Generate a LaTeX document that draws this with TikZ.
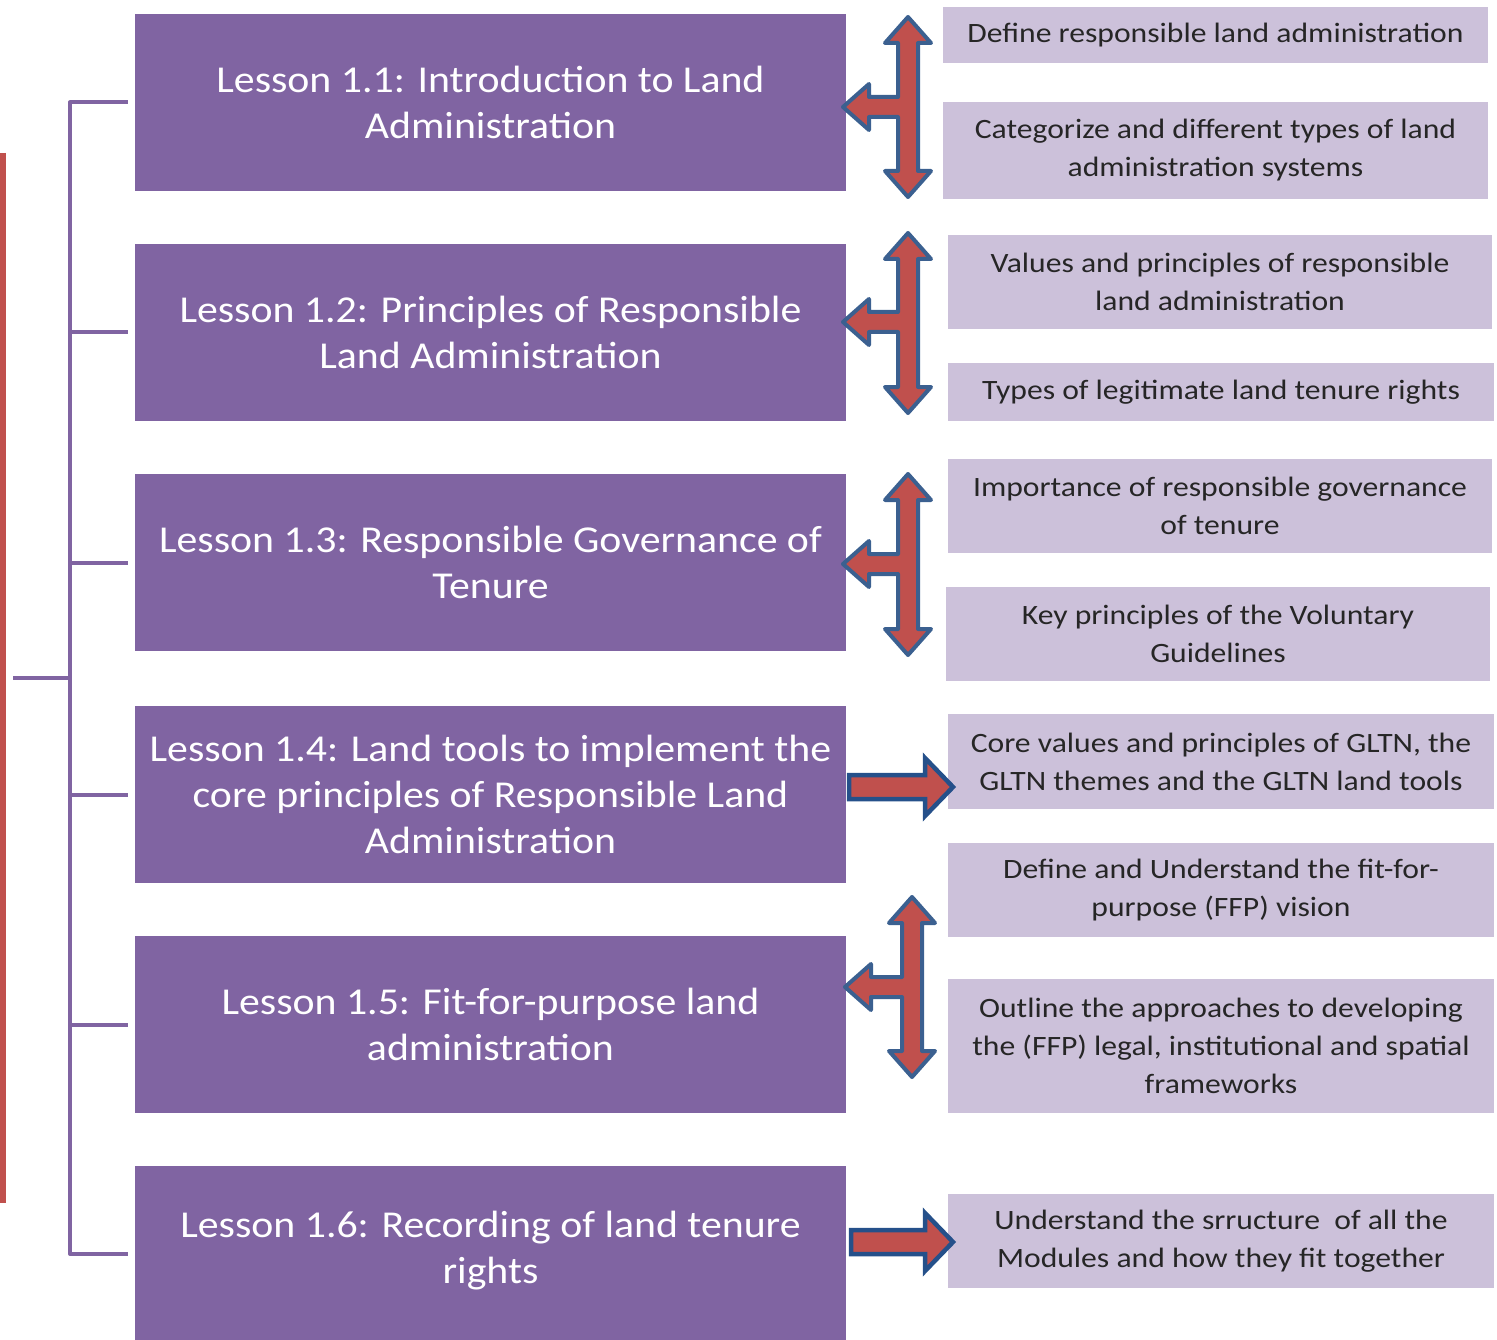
\documentclass[tikz,border=0pt]{standalone}
\usepackage{fontspec}
\setmainfont{Carlito}
\newfontfamily\lessonfont[FakeStretch=1.1]{Carlito}
\newfontfamily\detailfont[FakeStretch=1.13]{Carlito}
\definecolor{lpurple}{HTML}{8064A2}
\definecolor{lbox}{HTML}{CCC1DA}
\definecolor{ared}{HTML}{C0504D}
\definecolor{ablue}{HTML}{3B6090}
\definecolor{adblue}{HTML}{25508A}
\tikzset{
  lesson/.style={fill=lpurple, text=white, minimum width=711pt, minimum height=177pt, inner sep=0pt, align=center, font=\lessonfont\fontsize{38}{46}\selectfont},
  detail/.style={fill=lbox, text=black!85, inner sep=0pt, align=center, font=\detailfont\fontsize{28}{38}\selectfont},
  bracket/.style={draw=lpurple, line width=4pt},
  redbar/.style={draw=ared, line width=6pt},
  tarrow/.style={fill=ared, draw=ablue, line width=4pt, line join=round},
  rarrow/.style={fill=ared, draw=adblue, line width=4.5pt, line join=miter}
}
\newcommand\threearrow[5]{% cx, top, bottom, left tip x, cy
\draw[tarrow] ({#1},{#2}) -- ({#1+23},{#2+26}) -- ({#1+10},{#2+26}) -- ({#1+10},{#3-26}) -- ({#1+23},{#3-26}) -- ({#1},{#3}) -- ({#1-23},{#3-26}) -- ({#1-10},{#3-26}) -- ({#1-10},{#5+10}) -- ({#4+26},{#5+10}) -- ({#4+26},{#5+23}) -- ({#4},{#5}) -- ({#4+26},{#5-23}) -- ({#4+26},{#5-10}) -- ({#1-10},{#5-10}) -- ({#1-10},{#2+26}) -- ({#1-23},{#2+26}) -- cycle;}
\newcommand\rightarrowshape[3]{% start x, tip x, cy
\draw[rarrow] ({#1},{#3-12}) -- ({#2-28},{#3-12}) -- ({#2-28},{#3-29}) -- ({#2},{#3}) -- ({#2-28},{#3+29}) -- ({#2-28},{#3+12}) -- ({#1},{#3+12}) -- cycle;}
\begin{document}
\begin{tikzpicture}[x=1pt,y=-1pt]
\useasboundingbox (0,0) rectangle (1497,1340);
\clip (0,0) rectangle (1497,1340);
% lessons
\node[lesson] (l1) at (490.5,102.5) {Lesson 1.1: Introduction to Land\\Administration};
\node[lesson] (l2) at (490.5,332.5) {Lesson 1.2: Principles of Responsible\\Land Administration};
\node[lesson] (l3) at (490.5,562.5) {Lesson 1.3: Responsible Governance of\\Tenure};
\node[lesson] (l4) at (490.5,794.5) {Lesson 1.4: Land tools to implement the\\core principles of Responsible Land\\Administration};
\node[lesson] (l5) at (490.5,1024.5) {Lesson 1.5: Fit-for-purpose land\\administration};
\node[lesson, minimum height=176pt] (l6) at (490.5,1254) {};
\node[text=white, align=center, font=\lessonfont\fontsize{38}{46}\selectfont] (l6t) at (490.5,1251) {Lesson 1.6: Recording of land tenure\\rights};
% details
\node[detail, minimum width=545pt, minimum height=56pt] (d1) at (1215.5,35) {Define responsible land administration};
\node[detail, minimum width=545pt, minimum height=97pt] (d2) at (1215.5,150.5) {Categorize and different types of land\\administration systems};
\node[detail, minimum width=544pt, minimum height=94pt] (d3) at (1220,282) {Values and principles of responsible\\land administration};
\node[detail, minimum width=546pt, minimum height=58pt] (d4) at (1221,392) {Types of legitimate land tenure rights};
\node[detail, minimum width=544pt, minimum height=94pt] (d5) at (1220,506) {Importance of responsible governance\\of tenure};
\node[detail, minimum width=544pt, minimum height=94pt] (d6) at (1218,634) {Key principles of the Voluntary\\Guidelines};
\node[detail, minimum width=546pt, minimum height=95pt] (d7) at (1221,761.5) {Core values and principles of GLTN, the\\GLTN themes and the GLTN land tools};
\node[detail, minimum width=546pt, minimum height=94pt] (d8) at (1221,890) {Define and Understand the fit-for-\\purpose (FFP) vision};
\node[detail, minimum width=546pt, minimum height=134pt] (d9) at (1221,1046) {Outline the approaches to developing\\the (FFP) legal, institutional and spatial\\frameworks};
\node[detail, minimum width=546pt, minimum height=94pt] (d10) at (1221,1241) {Understand the srructure \ of all the\\Modules and how they fit together};
% left red bar
\draw[redbar] (3,153) -- (3,1203);
% bracket
\coordinate (root) at (13,678);
\draw[bracket, line join=round] ([xshift=-7pt]l1.west) -| (70,1254) -- ([xshift=-7pt]l6.west);
\foreach \n in {l2,l3,l4,l5} \draw[bracket] ([xshift=-7pt]\n.west) -- ++(-58,0);
\draw[bracket] (root) -- (70,678);
% arrows
\threearrow{908}{17}{197}{843}{107}
\threearrow{908}{233}{413}{843}{322}
\threearrow{908}{474}{655}{843}{564}
\threearrow{912}{897}{1077}{845}{987}
\rightarrowshape{849}{953}{787}
\rightarrowshape{851}{953}{1242}
\end{tikzpicture}
\end{document}
